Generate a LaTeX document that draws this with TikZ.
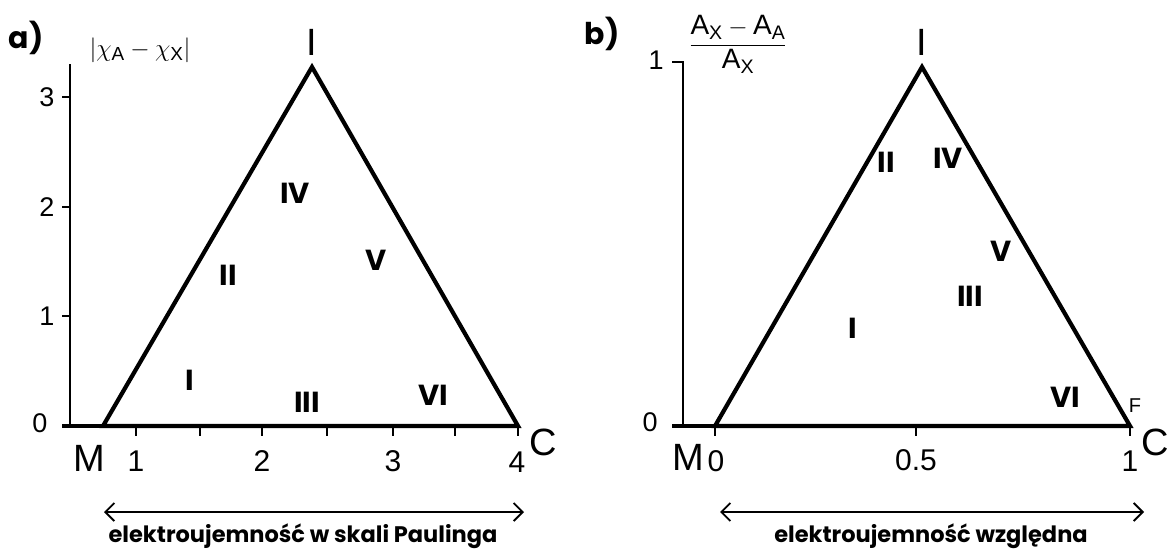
\documentclass[tikz,border=0pt]{standalone}
\usepackage{fontspec}
\setmainfont{Liberation Sans}
\newfontfamily\geo{Poppins}
\usetikzlibrary{arrows.meta}
\tikzset{
  tri/.style={line width=4.2pt, line join=miter, line cap=round},
  axisline/.style={line width=1.7pt},
  baseaxis/.style={line width=4.2pt},
  tickmark/.style={line width=1.9pt},
  numlab/.style={font=\fontsize{30}{30}\selectfont, inner sep=0pt},
  ylab/.style={font=\fontsize{27}{27}\selectfont, inner sep=0pt},
  vertex/.style={font=\fontsize{38}{38}\selectfont, inner sep=0pt},
  roman/.style={font=\geo\bfseries\fontsize{29}{29}\selectfont, inner sep=0pt},
  panel/.style={font=\geo\bfseries\fontsize{30}{30}\selectfont, inner sep=0pt},
  caption/.style={font=\geo\bfseries\fontsize{22.5}{22.5}\selectfont, inner sep=0pt},
  spanarrow/.style={line width=1.9pt, {Straight Barb[length=9pt,width=18pt,line width=1.9pt]}-{Straight Barb[length=9pt,width=18pt,line width=1.9pt]}},
}
\begin{document}
\begin{tikzpicture}[x=1pt,y=-1pt]
\useasboundingbox[fill=white] (0,0) rectangle (1169,552);

% ---------------- panel a ----------------
\node[panel] (pa) at (26,38) {a)};
\node[font=\fontsize{27}{27}\selectfont, inner sep=0pt] (ayt) at (140,50) {$|\chi_{\mathrm{A}}-\chi_{\mathrm{X}}|$};
\coordinate (ayTop) at (70,64);
\coordinate (ayBot) at (70,426);
\draw[axisline] (ayTop) -- (ayBot);
\foreach \v/\y in {3/97,2/207,1/316}{
  \coordinate (ayt\v) at (70,\y);
  \draw[tickmark] (ayt\v) -- ++(-8,0);
  \node[ylab] (ayl\v) at (47,\y) {\v};
}
\node[ylab] (ayl0) at (40,423) {0};
\coordinate (axL) at (62,426);
\coordinate (axR) at (518,426);
\draw[baseaxis] (axL) -- (axR);
\foreach \x in {136,200,262,327,393,455,518}{
  \coordinate (axt\x) at (\x,426);
  \draw[tickmark] (axt\x) -- ++(0,10);
}
\node[numlab] (axl1) at (136,461) {1};
\node[numlab] (axl2) at (262,461) {2};
\node[numlab] (axl3) at (393,461) {3};
\node[numlab] (axl4) at (517,462) {4};
\coordinate (aM) at (103,426);
\coordinate (aI) at (312,67);
\coordinate (aC) at (518,426);
\draw[tri] (aM) -- (aI) -- (aC) -- cycle;
\node[vertex] (aMl) at (89,458) {M};
\node[vertex] (aCl) at (543,442) {C};
\node[vertex] (aIl) at (312,42) {I};
\node[roman] (ar1) at (190,380) {I};
\node[roman] (ar2) at (228,275) {II};
\node[roman] (ar4) at (295,193) {IV};
\node[roman] (ar5) at (376,260) {V};
\node[roman] (ar3) at (307,402) {III};
\node[roman] (ar6) at (433,395) {VI};
\coordinate (aArL) at (104,512);
\coordinate (aArR) at (524,512);
\draw[spanarrow] (aArL) -- (aArR);
\node[caption] (acap) at (303,536) {elektroujemność w skali Paulinga};

% ---------------- panel b ----------------
\node[panel] (pb) at (602,34) {b)};
\node[font=\fontsize{28}{28}\selectfont, inner sep=0pt] (byt) at (738,44) {$\displaystyle\frac{\mathrm{A_X-A_A}}{\mathrm{A_X}}$};
\coordinate (byTop) at (683,62);
\coordinate (byBot) at (683,426);
\draw[axisline] (byBot) -- (byTop) -- ++(-11,0);
\node[ylab] (byl1) at (656,60) {1};
\node[ylab] (byl0) at (650,422) {0};
\coordinate (bxL) at (672,426);
\coordinate (bxR) at (1130,426);
\draw[baseaxis] (bxL) -- (bxR);
\foreach \x in {715,916,1130}{
  \coordinate (bxt\x) at (\x,426);
  \draw[tickmark] (bxt\x) -- ++(0,10);
}
\node[numlab] (bxl0) at (716,461) {0};
\node[numlab] (bxl5) at (916,460) {0.5};
\node[numlab] (bxl1) at (1130,461) {1};
\coordinate (bM) at (715,426);
\coordinate (bI) at (922,67);
\coordinate (bC) at (1130,426);
\draw[tri] (bM) -- (bI) -- (bC) -- cycle;
\node[vertex] (bMl) at (688,457) {M};
\node[vertex] (bCl) at (1155,442) {C};
\node[vertex] (bIl) at (922,42) {I};
\node[font=\fontsize{20}{20}\selectfont, inner sep=0pt] (bFl) at (1135,406) {F};
\node[roman] (br1) at (853,328) {I};
\node[roman] (br2) at (886,162) {II};
\node[roman] (br4) at (948,158) {IV};
\node[roman] (br5) at (1001,251) {V};
\node[roman] (br3) at (970,296) {III};
\node[roman] (br6) at (1065,397) {VI};
\coordinate (bArL) at (720,512);
\coordinate (bArR) at (1144,512);
\draw[spanarrow] (bArL) -- (bArR);
\node[caption] (bcap) at (931,536) {elektroujemność względna};
\end{tikzpicture}
\end{document}
